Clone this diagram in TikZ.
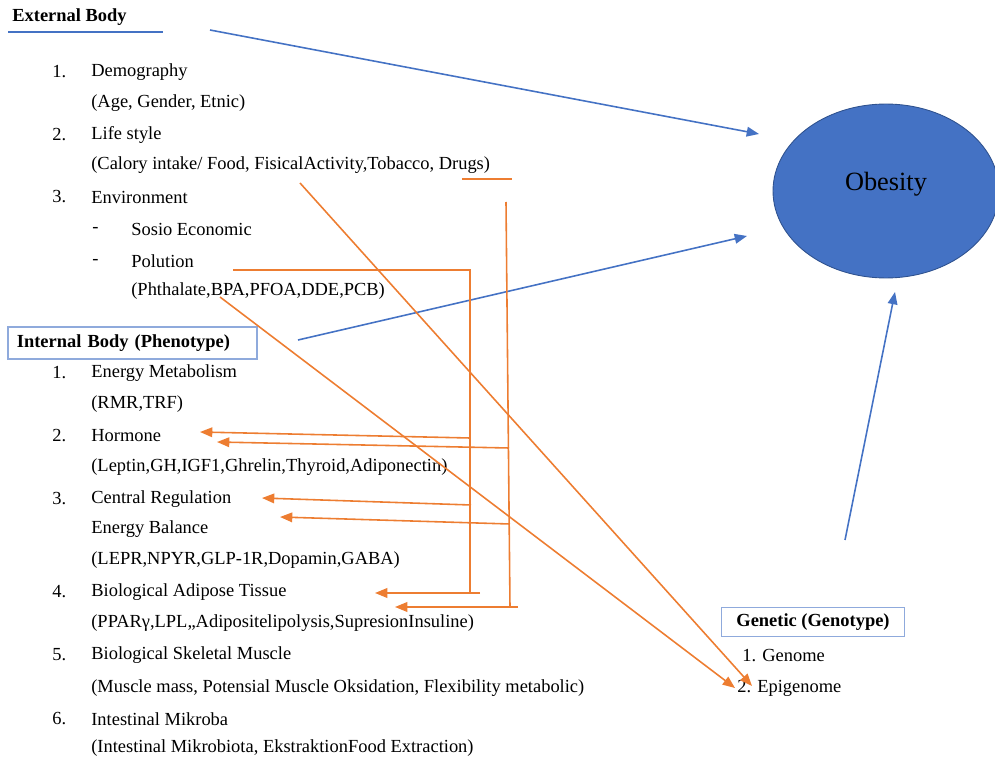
\documentclass[tikz,border=0pt]{standalone}
\usepackage{fontspec}
\setmainfont{Liberation Serif}
\usetikzlibrary{shapes.geometric,arrows.meta}
\definecolor{xanh}{HTML}{4472C4}
\definecolor{xanhdam}{HTML}{2F528F}
\definecolor{vien}{HTML}{8FAADC}
\definecolor{cam}{HTML}{ED7D31}
\begin{document}
\begin{tikzpicture}[x=0.02cm, y=-0.02cm,
		txt/.style={anchor=west, inner sep=0pt, font=\fontsize{10.5}{12}\selectfont},
		hd/.style={txt, font=\fontsize{10.5}{12}\selectfont\bfseries},
		xa/.style={xanh, line width=0.9pt, -{Triangle[length=7pt,width=5.5pt]}},
		ca/.style={cam, line width=0.9pt},
		cat/.style={ca, -{Triangle[length=7pt,width=5.5pt]}}]
	\useasboundingbox (0,0) rectangle (995,760);
	% External Body
	\node[hd] (ext) at (12,17) {External Body};
	\draw[xanh, line width=1pt] (8,32) -- (163,32);
	\foreach \y/\so/\ten [count=\i] in {72/1./Demography, 135/2./Life style, 197/3./Environment}
	{
		\node[txt] (es\i) at (52,\y) {\so};
		\node[txt] (e\i) at (91,\y) {\ten};
	}
	\node[txt] (e1c) at (91,103) {(Age, Gender, Etnic)};
	\node[txt] (e2c) at (91,165) {(Calory intake/ Food, FisicalActivity,Tobacco, Drugs)};
	\node[txt] (g1) at (92,230) {-};
	\node[txt] (sosio) at (131,229) {Sosio Economic};
	\node[txt] (g2) at (92,262) {-};
	\node[txt] (pol) at (131,261) {Polution};
	\node[txt] (polc) at (131,291) {(Phthalate,BPA,PFOA,DDE,PCB)};
	% Internal Body
	\node[hd, draw=vien, line width=1pt, inner xsep=0.18cm, inner ysep=0pt,
		minimum height=0.64cm, text width=4.62cm, align=left] (int) at (7,343) {Internal Body (Phenotype)};
	\foreach \y/\so/\ten [count=\i] in {373/1./Energy Metabolism, 436/2./Hormone,
		499/3./Central Regulation, 592/4./Biological Adipose Tissue,
		655/5./Biological Skeletal Muscle, 719/6./Intestinal Mikroba}
	{
		\node[txt] (is\i) at (52,\y) {\so};
		\node[txt] (i\i) at (91,\y) {\ten};
	}
	\node[txt] (i1c) at (91,404) {(RMR,TRF)};
	\node[txt] (i2c) at (91,467) {(Leptin,GH,IGF1,Ghrelin,Thyroid,Adiponectin)};
	\node[txt] (i3b) at (91,529) {Energy Balance};
	\node[txt] (i3c) at (91,560) {(LEPR,NPYR,GLP-1R,Dopamin,GABA)};
	\node[txt] (i4c) at (91,623) {(PPARγ,LPL,,Adipositelipolysis,SupresionInsuline)};
	\node[txt] (i5c) at (91,688) {(Muscle mass, Potensial Muscle Oksidation, Flexibility metabolic)};
	\node[txt] (i6c) at (91,748) {(Intestinal Mikrobiota, EkstraktionFood Extraction)};
	% Obesity
	\node[ellipse, fill=xanh, draw=xanhdam, line width=0.5pt, minimum width=4.52cm,
		minimum height=3.48cm, font=\fontsize{15}{17}\selectfont] (obes) at (886,191) {\raisebox{0pt}[0pt][0pt]{Obesity}};
	% Genetic
	\node[hd, anchor=center, draw=vien, line width=1pt, minimum width=3.66cm,
		minimum height=0.58cm] (gen) at (813,622) {Genetic (Genotype)};
	\node[txt] (gen1) at (742,656) {1. Genome};
	\node[txt] (gen2) at (737,688) {2. Epigenome};
	% diem noi
	\foreach \n/\x/\y in {x0/210/30, x1/759/134, x2/298/340, x3/747/236, x4/845/540, x5/895/292,
		a0/233/270, a1/470/270, a2/470/593, a3/480/593, a4/470/438, a5/471/505,
		b0/506/202, b1/510/607, b2/518/607, b3/509/448, b4/510/524,
		t1/200/432, t2/262/498, t3/375/593, t4/217/442, t5/280/517, t6/395/607,
		s0/462/179, s1/512/179, d0/300/183, d1/752/686, d2/220/297, d3/735/688}
		\coordinate (\n) at (\x,\y);
	\draw[xa] (x0) -- (x1);
	\draw[xa] (x2) -- (x3);
	\draw[xa] (x4) -- (x5);
	\draw[ca] (s0) -- (s1);
	\draw[ca] (a0) -- (a1) -- (a2);
	\draw[ca] (b0) -- (b1);
	\draw[cat] (a4) -- (t1);
	\draw[cat] (a5) -- (t2);
	\draw[cat] (a3) -- (t3);
	\draw[cat] (b3) -- (t4);
	\draw[cat] (b4) -- (t5);
	\draw[cat] (b2) -- (t6);
	\draw[cat] (d0) -- (d1);
	\draw[cat] (d2) -- (d3);
\end{tikzpicture}
\end{document}
